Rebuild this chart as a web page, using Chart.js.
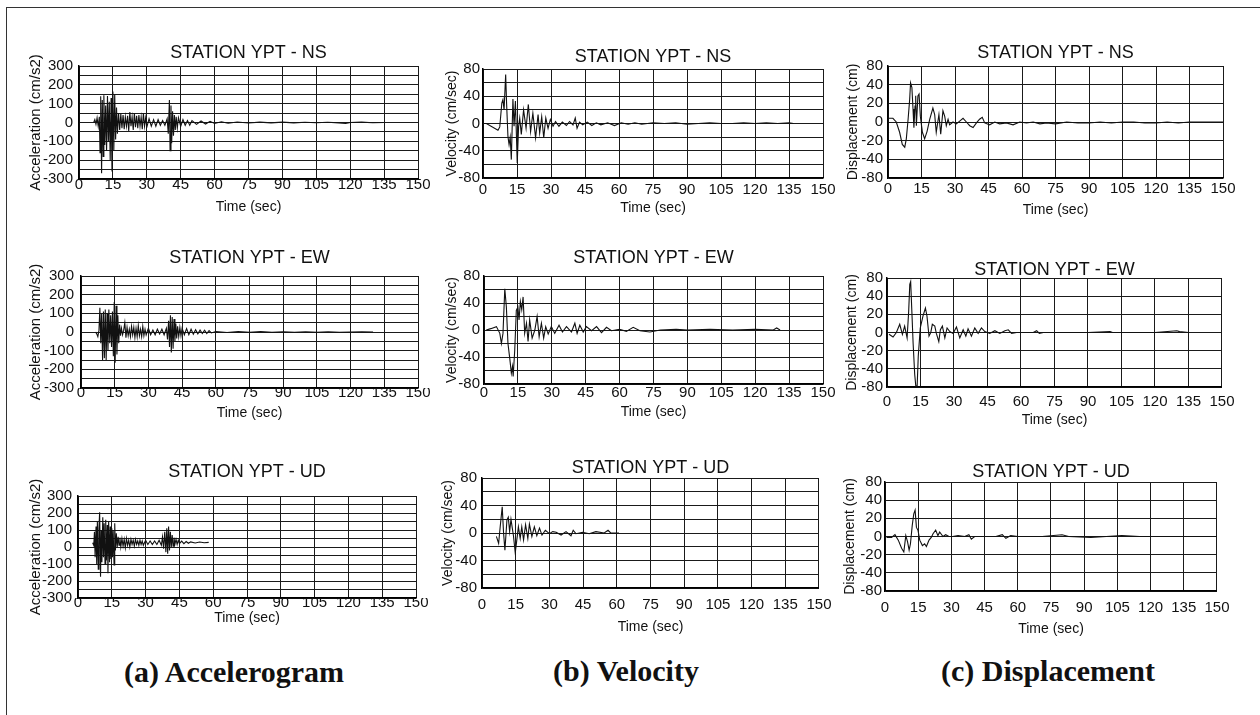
<!DOCTYPE html>
<html><head><meta charset="utf-8">
<script src="https://cdn.jsdelivr.net/npm/chart.js@4.4.1/dist/chart.umd.min.js"></script>
<style>
html,body{margin:0;padding:0;background:#fff;}
#fig{position:relative;width:1260px;height:715px;overflow:hidden;background:#fff;}
#fig canvas{position:absolute;}
.frameTop{position:absolute;left:6px;top:7px;width:1254px;height:0;border-top:1.5px solid #333;}
.frameLeft{position:absolute;left:6px;top:7px;width:0;height:708px;border-left:1.5px solid #333;}
.cap{position:absolute;font-family:"Liberation Serif","Times New Roman",serif;font-weight:bold;font-size:30px;color:#111;transform:translate(-50%,-50%);white-space:nowrap;line-height:1;}
</style></head>
<body>
<div id="fig">
  <div class="frameTop"></div>
  <div class="frameLeft"></div>
  <div class="cap" style="left:234px;top:672px;">(a) Accelerogram</div>
  <div class="cap" style="left:626px;top:671px;">(b) Velocity</div>
  <div class="cap" style="left:1048px;top:671px;">(c) Displacement</div>
</div>
<script>
// ---------- tick labels ----------
const timeTicks = [0,15,30,45,60,75,90,105,120,135,150];
const accTickLabels = [300,200,100,0,-100,-200,-300];
const velTickLabels = [80,40,0,-40,-80];
const dispTickValues = [60,40,20,0,-20,-40,-60];
const dispTickLabels = ['80','40','20','0','-20','-40','-80'];

// ---------- series: [time (sec), value] ----------
const accNS = [[6.5,0],[7,15],[7.5,-10],[8,25],[8.5,-20],[9,30],[9.3,-160],[9.6,140],[10,-270],[10.3,120],[10.7,-180],[11,145],[11.4,-120],[11.8,90],[12.2,-150],[12.6,140],[13,-100],[13.4,110],[13.8,-200],[14.2,130],[14.6,-260],[15,165],[15.4,-150],[15.8,150],[16.2,-90],[16.6,80],[17,-60],[17.5,50],[18,-40],[18.5,45],[19,-30],[19.5,40],[20,-35],[20.5,30],[21,-20],[21.5,35],[22,-45],[22.5,55],[23,-20],[23.5,30],[24,-40],[24.5,50],[25,-25],[25.5,35],[26,-30],[26.5,40],[27,-20],[27.5,30],[28,-35],[28.5,50],[29,-20],[29.5,25],[30,-25],[31,20],[32,-20],[33,15],[34,-20],[35,15],[36,-15],[37,10],[38,-15],[39,20],[39.5,-60],[40,120],[40.3,-150],[40.7,90],[41,-110],[41.4,60],[41.8,-70],[42.2,40],[42.6,-40],[43,30],[43.5,-30],[44,25],[45,-20],[46,15],[47,-15],[48,10],[49,-15],[50,10],[52,-10],[54,8],[56,-8],[58,6],[60,-5],[63,4],[66,-4],[70,3],[75,-3],[80,2],[85,-2],[90,2],[95,-2],[100,1],[105,-1],[110,1],[115,-2],[118,-5],[120,0],[125,2],[130,-1],[135,0]];

const accEW = [[6.5,0],[7,-10],[7.5,-25],[8,10],[8.4,130],[8.8,-60],[9.2,100],[9.6,-150],[10,110],[10.4,-140],[10.8,120],[11.2,-150],[11.6,100],[12,-100],[12.4,120],[12.8,-60],[13.2,90],[13.6,-80],[14,110],[14.4,-130],[14.8,160],[15.2,-165],[15.6,140],[16,-120],[16.4,90],[16.8,-60],[17.2,40],[17.6,-20],[18,20],[18.5,-15],[19,10],[19.5,50],[20,-30],[20.5,25],[21,-20],[21.5,15],[22,-25],[22.5,30],[23,-15],[23.5,25],[24,-30],[24.5,20],[25,-25],[25.5,35],[26,-20],[26.5,15],[27,-25],[27.5,30],[28,-20],[28.5,15],[29,-15],[30,20],[31,-15],[32,10],[33,-15],[34,15],[35,-10],[36,15],[37,-15],[38,20],[38.5,-40],[39,60],[39.4,-80],[39.8,90],[40.2,-110],[40.6,80],[41,-90],[41.4,70],[41.8,-50],[42.2,45],[42.6,-35],[43,30],[43.5,-25],[44,25],[44.5,-20],[45,20],[46,-15],[47,18],[48,-15],[49,15],[50,-12],[51,12],[52,-10],[53,10],[54,-8],[55,10],[56,-8],[57,8],[58,-5],[60,3],[65,-3],[70,2],[75,-2],[80,2],[85,-2],[90,1],[95,-1],[100,1],[105,-1],[110,1],[115,-1],[120,0],[125,1],[130,0]];

const accUD = [[6.5,25],[7,10],[7.3,90],[7.6,-60],[8,120],[8.3,-100],[8.6,150],[9,-130],[9.3,110],[9.6,205],[10,-175],[10.3,100],[10.6,-90],[11,175],[11.3,-60],[11.6,140],[12,-100],[12.3,160],[12.6,-80],[13,130],[13.3,-155],[13.6,150],[14,-90],[14.3,120],[14.6,-70],[15,110],[15.3,-60],[15.6,100],[16,-105],[16.3,140],[16.6,-20],[17,80],[17.4,0],[17.8,60],[18.2,10],[18.6,55],[19,0],[19.5,50],[20,5],[20.5,45],[21,-5],[21.5,50],[22,10],[22.5,40],[23,0],[23.5,45],[24,15],[24.5,40],[25,5],[25.5,45],[26,15],[26.5,35],[27,10],[27.5,40],[28,15],[28.5,35],[29,10],[30,40],[31,15],[32,35],[33,15],[34,35],[35,15],[36,40],[37,10],[37.5,60],[38,-10],[38.5,90],[39,-30],[39.4,110],[39.8,-40],[40.2,120],[40.6,-20],[41,90],[41.4,0],[41.8,70],[42.2,5],[42.6,55],[43,15],[43.5,45],[44,15],[44.5,40],[45,20],[46,35],[47,20],[48,32],[49,22],[50,30],[52,24],[54,29],[56,25],[58,27]];

const velNS = [[0,0],[1.5,0],[6.6,-10],[7.4,-5],[8.3,30],[8.8,35],[9.3,20],[10,72],[10.4,30],[11,-19],[11.5,-31],[12,-20],[12.5,-53],[13.2,36],[13.7,-4],[14.3,33],[15.1,-58],[15.7,-5],[16.2,8],[16.9,-16],[17.9,20],[19,-7],[20,28],[21,-12],[22,15],[23.2,-21],[24.3,13],[25,-14],[25.9,10],[26.8,-21],[27.7,8],[28.7,-7],[29.7,6],[30.9,-4],[32,3],[33.5,-4],[35,2],[36.8,-3],[38.2,3],[39.7,-2],[40.7,8],[41.5,-7],[42.6,2],[44,-2],[46,2],[48,-3],[50,1],[52,-2],[55,1],[58,-3],[61,1],[64,-1],[67,1],[70,-1],[75,1],[80,0],[85,1],[90,-1],[95,0],[100,1],[105,0],[110,0],[115,1],[120,0],[125,1],[130,0],[135,1],[137,0]];

const velEW = [[1,0],[3,2],[5.5,5],[7,-5],[7.7,-20],[8.4,-5],[9.2,61],[9.9,34],[10.6,-20],[11.4,-42],[12.1,-64],[12.6,-54],[12.9,-69],[13.6,-30],[14.3,29],[15,34],[15.5,15],[16.1,42],[16.7,30],[17.3,49],[18,-5],[18.8,10],[19.5,-17],[20.2,15],[21.3,-12],[22.5,0],[23.5,20],[24.4,-10],[25.4,10],[26.4,-12],[27.3,5],[28.4,-6],[29.8,5],[31.3,-5],[33.2,7],[34.7,-3],[36.5,5],[38.7,-3],[40.2,10],[41.2,-5],[42.4,7],[43.9,-3],[45.3,5],[47.6,-1],[49.8,5],[52,-4],[54.2,4],[56.4,-1],[60,1],[63,-2],[66,4],[69,-1],[73.4,-3],[78,0],[85,1],[90,0],[100,1],[110,0],[120,1],[128,0],[129.5,3],[131,0]];

const velUD = [[6.4,-5],[7.4,-15],[8.1,9],[9,38],[9.6,0],[10.2,-25],[11.1,19],[11.7,23],[12.3,2],[12.9,20],[13.4,9],[14,-4],[14.8,-29],[15.5,-10],[16.2,9],[17,-8],[17.7,9],[18.5,-10],[19.4,12],[20.4,-8],[21.1,13],[22.2,-5],[23.3,9],[24.4,-4],[25.6,7],[26.7,-3],[28.2,4],[30,-1],[31.5,2],[33,1],[35.2,-3],[37.4,2],[39.6,-4],[40.6,4],[41.8,-1],[44.8,1],[47.7,-1],[50.7,2],[54.4,0],[56.1,4],[57.3,0],[61,0]];

const dispNS = [[0,4],[2.2,4],[3.7,0],[5.2,-11],[6.4,-24],[7.5,-27],[8.2,-18],[9,3],[9.7,24],[10.1,42],[10.7,37],[11.2,14],[11.6,-6],[12.1,17],[12.4,28],[12.7,-4],[13.4,28],[13.9,30],[14.5,6],[15.4,-11],[16.4,-18],[17.5,-10],[18.7,3],[20.1,15],[20.9,8],[21.6,-11],[22.8,8],[23.6,-13],[24.6,12],[25.4,6],[26.1,-4],[26.9,3],[27.6,-3],[29.1,0],[30.6,-2],[32.1,1],[33.6,4],[35.1,0],[36.6,-4],[38.1,-6],[39.6,-1],[41,3],[42.2,5],[43.3,-1],[45.5,-3],[47.8,0],[50,-2],[53,-1],[56,-3],[59,0],[62,-1],[65,0],[68,-2],[71,-1],[75,-2],[80,0],[85,-1],[90,-1],[95,0],[100,-1],[105,0],[110,0],[115,-1],[120,-1],[125,0],[130,-1],[135,0],[140,0],[145,0],[150,0]];

const dispEW = [[0.9,-2],[2.7,-5],[4.2,0],[5.7,9],[6.9,-2],[7.9,7],[9,-6],[9.7,23],[10.2,53],[10.6,56],[11.1,25],[11.7,-12],[12.4,-46],[12.9,-59],[13.5,-59],[14,-26],[14.9,5],[16.1,18],[17.2,27],[17.9,18],[18.8,-4],[19.6,0],[20.3,9],[21.4,7],[22.1,-1],[23.2,-10],[23.9,3],[24.8,7],[25.9,-6],[26.9,5],[28.1,1],[29.6,-1],[31.1,6],[32.6,-6],[34.1,3],[35.3,-4],[36.3,4],[37.8,-4],[39.3,5],[40.8,-1],[42.3,5],[43.8,1],[46,-1],[48.3,2],[50.5,-1],[52.8,2],[54.3,3],[55.8,-1],[58,0],[61,0],[65.5,0],[67,2],[68.2,-1],[70,0],[80,0],[90,0],[99.9,1],[101,0],[110,0],[120,0],[129.8,2],[131,1],[135,0]];

const dispUD = [[0.7,-1],[3,-1],[4.5,2],[6,-4],[7.5,-13],[8.5,-17],[9.4,1],[10.2,-6],[10.9,-15],[11.5,-8],[12.3,12],[13,25],[13.6,29],[14.2,10],[14.9,7],[15.7,-4],[16.9,-10],[17.9,-8],[18.7,-11],[19.9,-4],[20.9,-1],[21.7,3],[22.9,7],[23.9,1],[24.7,5],[26.2,0],[27.4,2],[28.9,0],[30.6,0],[33,1],[36,0],[37.9,2],[39,-3],[40.5,0],[44.1,0],[50.1,0],[53,2],[54.6,-2],[56.8,1],[60,0],[71,0],[80,2],[83,0],[93,-1],[100,0],[107,1],[115,0],[122,0],[130,0],[140,0],[150,0]];

// ---------- layout (pixel placement of each panel) ----------
const panels = [
  {kind:'acc',  title:'STATION YPT - NS', series:accNS,  plot:[79,66,418,179],  titleY:53,  yTitleX:35,  yTickPad:6, xLabelY:185, xTitleY:207},
  {kind:'vel',  title:'STATION YPT - NS', series:velNS,  plot:[483,69,823,178], titleY:57,  yTitleX:452, yTickPad:3, xLabelY:190, xTitleY:208},
  {kind:'disp', title:'STATION YPT - NS', series:dispNS, plot:[888,66,1223,178],titleY:53,  yTitleX:853, yTickPad:5, xLabelY:189, xTitleY:210},
  {kind:'acc',  title:'STATION YPT - EW', series:accEW,  plot:[81,276,418,388], titleY:258, yTitleX:35,  yTickPad:7, xLabelY:393, xTitleY:413},
  {kind:'vel',  title:'STATION YPT - EW', series:velEW,  plot:[484,276,823,384],titleY:258, yTitleX:452, yTickPad:4, xLabelY:393, xTitleY:412},
  {kind:'disp', title:'STATION YPT - EW', series:dispEW, plot:[887,278,1222,387],titleY:270,yTitleX:852, yTickPad:4, xLabelY:402, xTitleY:420},
  {kind:'acc',  title:'STATION YPT - UD', series:accUD,  plot:[78,496,416,598], titleY:472, yTitleX:35,  yTickPad:6, xLabelY:603, xTitleY:618},
  {kind:'vel',  title:'STATION YPT - UD', series:velUD,  plot:[482,478,821,588],titleY:468, yTitleX:448, yTickPad:5, xLabelY:605, xTitleY:627},
  {kind:'disp', title:'STATION YPT - UD', series:dispUD, plot:[885,482,1219,591],titleY:472,yTitleX:850, yTickPad:3, xLabelY:608, xTitleY:629}
];

const kinds = {
  acc:  {min:-300, max:300, step:50, yTitle:'Acceleration (cm/s2)', titleSize:15,
         label: v => accTickLabels.includes(v) ? String(v) : ''},
  vel:  {min:-80, max:80, step:20, yTitle:'Velocity (cm/sec)', titleSize:14,
         label: v => velTickLabels.includes(v) ? String(v) : ''},
  disp: {min:-60, max:60, step:20, yTitle:'Displacement (cm)', titleSize:14,
         label: v => { const i = dispTickValues.indexOf(v); return i >= 0 ? dispTickLabels[i] : ''; }}
};

Chart.defaults.font.family = '"Liberation Sans", Arial, Helvetica, sans-serif';
Chart.defaults.color = '#111';

const fig = document.getElementById('fig');
panels.forEach(p => {
  const k = kinds[p.kind];
  const [L, T, R, B] = p.plot;
  const left = p.yTitleX - 12;
  const top = p.titleY - 13;
  const right = R + 20;
  const bottom = p.xTitleY + 12;
  const W = right - left, H = bottom - top;
  const Yw = L - left;
  const Xh = bottom - B;
  const gap = T - p.titleY;
  const cv = document.createElement('canvas');
  cv.width = W; cv.height = H;
  cv.style.left = left + 'px'; cv.style.top = top + 'px';
  cv.style.width = W + 'px'; cv.style.height = H + 'px';
  fig.appendChild(cv);
  const pts = p.series.map(d => ({x: d[0], y: d[1]}));
  new Chart(cv, {
    type: 'line',
    data: {datasets: [{data: pts, borderColor: '#111', borderWidth: 1.1, pointRadius: 0, tension: 0, fill: false}]},
    options: {
      responsive: false, animation: false, devicePixelRatio: 1,
      layout: {padding: {top: 5.8, right: 20, bottom: 0, left: 0}},
      plugins: {
        legend: {display: false}, tooltip: {enabled: false},
        title: {display: true, text: p.title, fullSize: false, color: '#111',
                font: {size: 18, weight: 'normal', lineHeight: 0.8},
                padding: {top: 0, bottom: gap - 7.2}}
      },
      scales: {
        x: {
          type: 'linear', min: 0, max: 150,
          ticks: {stepSize: 15, autoSkip: false, maxRotation: 0, color: '#111',
                  padding: (p.xLabelY - B) - 7.5, font: {size: 15, lineHeight: 1},
                  callback: v => timeTicks.includes(v) ? String(v) : ''},
          grid: {color: '#1a1a1a', lineWidth: 1, drawTicks: false},
          border: {color: '#000', width: 1.5},
          title: {display: true, text: 'Time (sec)', color: '#111', font: {size: 14, lineHeight: 1.2},
                  padding: {top: 0, bottom: 3.6}},
          afterFit: s => { s.height = Xh; }
        },
        y: {
          type: 'linear', min: k.min, max: k.max,
          ticks: {stepSize: k.step, autoSkip: false, color: '#111', padding: p.yTickPad,
                  font: {size: 15}, callback: v => k.label(v)},
          grid: {color: '#1a1a1a', lineWidth: 1, drawTicks: false},
          border: {color: '#000', width: 1.5},
          title: {display: true, text: k.yTitle, color: '#111', font: {size: k.titleSize, lineHeight: 1.2},
                  padding: {top: 3.6, bottom: 0}},
          afterFit: s => { s.width = Yw; }
        }
      }
    }
  });
});
</script>
</body></html>
